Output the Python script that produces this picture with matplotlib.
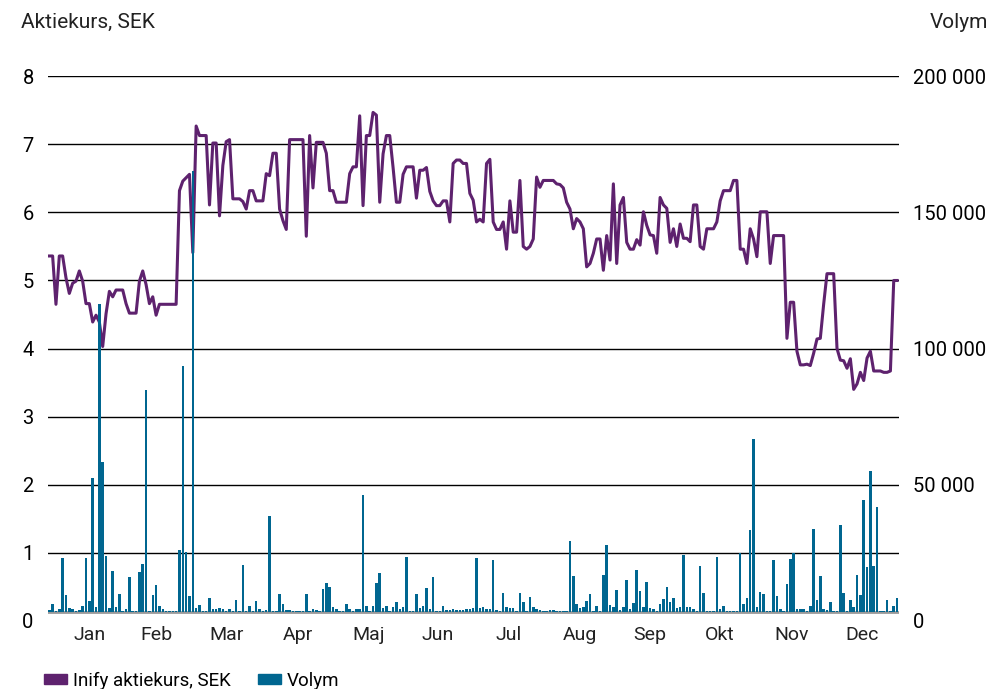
import matplotlib
matplotlib.use("Agg")
import matplotlib.pyplot as plt
from matplotlib.patches import Patch
from matplotlib.ticker import FuncFormatter

# kurs per handelsdag (SEK)
kurs = [
    5.36, 5.36, 4.65, 5.36, 5.36, 5.04, 4.81, 4.96, 4.99, 5.14,
    4.99, 4.66, 4.66, 4.39, 4.49, 4.39, 4.03, 4.51, 4.84, 4.76,
    4.86, 4.86, 4.86, 4.66, 4.52, 4.52, 4.52, 4.99, 5.14, 4.94,
    4.66, 4.76, 4.49, 4.65, 4.65, 4.65, 4.65, 4.65, 4.65, 6.32,
    6.46, 6.51, 6.56, 5.41, 7.27, 7.13, 7.13, 7.13, 6.11, 7.02,
    7.02, 5.95, 6.69, 7.04, 7.07, 6.20, 6.20, 6.20, 6.16, 6.05,
    6.32, 6.32, 6.17, 6.17, 6.17, 6.57, 6.54, 6.87, 6.87, 6.05,
    5.88, 5.75, 7.07, 7.07, 7.07, 7.07, 7.07, 5.65, 7.13, 6.36,
    7.03, 7.03, 7.03, 6.87, 6.32, 6.32, 6.15, 6.15, 6.15, 6.15,
    6.57, 6.67, 6.67, 7.42, 6.10, 7.13, 7.13, 7.47, 7.43, 6.15,
    6.86, 7.13, 7.13, 6.66, 6.15, 6.15, 6.56, 6.67, 6.67, 6.67,
    6.21, 6.62, 6.62, 6.66, 6.31, 6.17, 6.10, 6.10, 6.17, 6.17,
    5.86, 6.72, 6.77, 6.77, 6.72, 6.72, 6.28, 6.18, 5.86, 5.90,
    5.86, 6.72, 6.78, 5.86, 5.75, 5.75, 5.86, 5.46, 6.17, 5.71,
    5.71, 6.47, 5.50, 5.46, 5.50, 5.61, 6.52, 6.37, 6.47, 6.47,
    6.47, 6.47, 6.42, 6.41, 6.36, 6.15, 6.05, 5.76, 5.91, 5.86,
    5.76, 5.20, 5.25, 5.40, 5.61, 5.61, 5.15, 5.66, 5.30, 6.42,
    5.25, 6.11, 6.22, 5.56, 5.46, 5.46, 5.60, 5.52, 6.01, 5.81,
    5.67, 5.66, 5.40, 6.22, 6.11, 6.06, 5.56, 5.76, 5.50, 5.83,
    5.62, 5.62, 5.57, 6.11, 6.11, 5.50, 5.46, 5.76, 5.76, 5.76,
    5.86, 6.17, 6.32, 6.32, 6.32, 6.47, 6.47, 5.46, 5.46, 5.25,
    5.76, 5.61, 5.35, 6.01, 6.01, 6.01, 5.25, 5.66, 5.66, 5.66,
    5.66, 4.15, 4.68, 4.68, 3.96, 3.76, 3.76, 3.77, 3.75, 3.93,
    4.14, 4.15, 4.65, 5.10, 5.10, 5.10, 4.00, 3.83, 3.82, 3.71,
    3.85, 3.40, 3.48, 3.65, 3.53, 3.86, 3.96, 3.67, 3.67, 3.67,
    3.65, 3.65, 3.67, 5.00, 5.00,
]

# omsatt volym per handelsdag (antal aktier)
volym = [
    500, 2800, 300, 900, 19700, 6300, 1300, 900, 300, 500,
    2200, 19700, 4000, 49100, 1900, 113000, 55000, 20600, 1300, 14900,
    1900, 6600, 300, 900, 12700, 300, 300, 14500, 17400, 81400,
    300, 6000, 9800, 2200, 900, 300, 300, 300, 300, 22500,
    90200, 21800, 5600, 161800, 1300, 2600, 300, 300, 5000, 900,
    900, 1300, 900, 300, 900, 300, 4400, 300, 17100, 300,
    2000, 300, 3900, 900, 300, 500, 35100, 300, 300, 6400,
    2800, 500, 500, 300, 300, 300, 300, 6600, 300, 900,
    500, 300, 8300, 10400, 9200, 1600, 900, 300, 300, 2700,
    900, 300, 900, 900, 43000, 2200, 300, 2200, 10400, 14200,
    1200, 2200, 300, 1600, 3500, 900, 1600, 20200, 300, 300,
    6400, 1200, 2200, 8800, 900, 12600, 300, 300, 2200, 500,
    500, 900, 500, 500, 500, 900, 900, 1300, 19700, 1300,
    1600, 900, 900, 19000, 500, 300, 6900, 1600, 1300, 1300,
    300, 6900, 3500, 300, 5300, 1600, 900, 500, 300, 300,
    500, 500, 300, 300, 300, 300, 26000, 13200, 2800, 1200,
    1900, 4000, 6400, 300, 2200, 300, 13600, 24600, 2400, 1800,
    7900, 500, 1600, 11700, 900, 3100, 15500, 7600, 1800, 11100,
    1200, 900, 300, 2800, 4700, 9200, 3700, 5100, 1200, 1600,
    20900, 1600, 1800, 900, 300, 16800, 6900, 300, 300, 300,
    20200, 900, 2200, 300, 300, 300, 300, 21600, 2800, 5100,
    30100, 63600, 1600, 7300, 6400, 300, 300, 19000, 5600, 900,
    300, 10200, 19500, 21400, 900, 900, 900, 300, 2200, 30400,
    4400, 13200, 900, 500, 3500, 300, 300, 32000, 6900, 300,
    4200, 1600, 13600, 6000, 41100, 16500, 51800, 16800, 38500, 300,
    300, 4400, 300, 2200, 5100,
]

manader = ["Jan", "Feb", "Mar", "Apr", "Maj", "Jun",
           "Jul", "Aug", "Sep", "Okt", "Nov", "Dec"]

lila = "#5e226e"
bla = "#006690"
plt.rcParams['font.family'] = ['Roboto', 'DejaVu Sans']

dagar = list(range(len(kurs)))
manad_pos = [12, 32, 53, 74.4, 95.6, 116.5, 137.7, 158.9, 180, 201, 222.5, 243.4]
bas = 0.132  # x-axeln ligger lite ovanfor nollan

fig = plt.figure(figsize=(9.92, 6.89), dpi=100)
ax = fig.add_axes([0.048, 0.0991, 0.858, 0.7901])
ax.plot(dagar, kurs, color=lila, lw=2.2, solid_joinstyle='round', zorder=3)
ax.set_ylim(0, 8)
ax.set_xlim(-0.5, len(kurs) - 0.5)
ax.set_yticks(range(0, 9))
ax.grid(axis='y', color='black', lw=1.0)
ax.get_ygridlines()[0].set_visible(False)
ax.axhline(bas, color='#999999', lw=2, zorder=2)
ax.set_xticks(manad_pos)
ax.set_xticklabels(manader, fontsize=14, color='#222222')
ax.tick_params(axis='x', length=0, pad=4)
ax.tick_params(axis='y', length=0, pad=10, labelsize=14.5)
for s in ax.spines.values():
    s.set_visible(False)

ax2 = ax.twinx()
ax2.bar(dagar, volym, width=0.75, bottom=bas * 25000, color=bla, zorder=3)
ax2.set_ylim(0, 200000)
ax2.set_yticks(range(0, 200001, 50000))
ax2.yaxis.set_major_formatter(FuncFormatter(lambda v, p: f"{int(v):,}".replace(",", " ")))
ax2.tick_params(axis='y', length=0, pad=10, labelsize=14.5)
for s in ax2.spines.values():
    s.set_visible(False)

fig.text(0.021, 0.959, "Aktiekurs, SEK", fontsize=15, va='baseline', color='#222222')
fig.text(0.996, 0.959, "Volym", fontsize=15, va='baseline', ha='right', color='#222222')

handles = [Patch(color=lila), Patch(color=bla)]
fig.legend(handles, ["Inify aktiekurs, SEK", "Volym"], loc='center left',
           bbox_to_anchor=(0.044, 0.012), ncol=2, frameon=False, fontsize=13.5,
           handlelength=1.25, handleheight=0.4, handletextpad=0.3,
           columnspacing=1.45, borderpad=0, borderaxespad=0)

plt.savefig("out.png", dpi=100)
